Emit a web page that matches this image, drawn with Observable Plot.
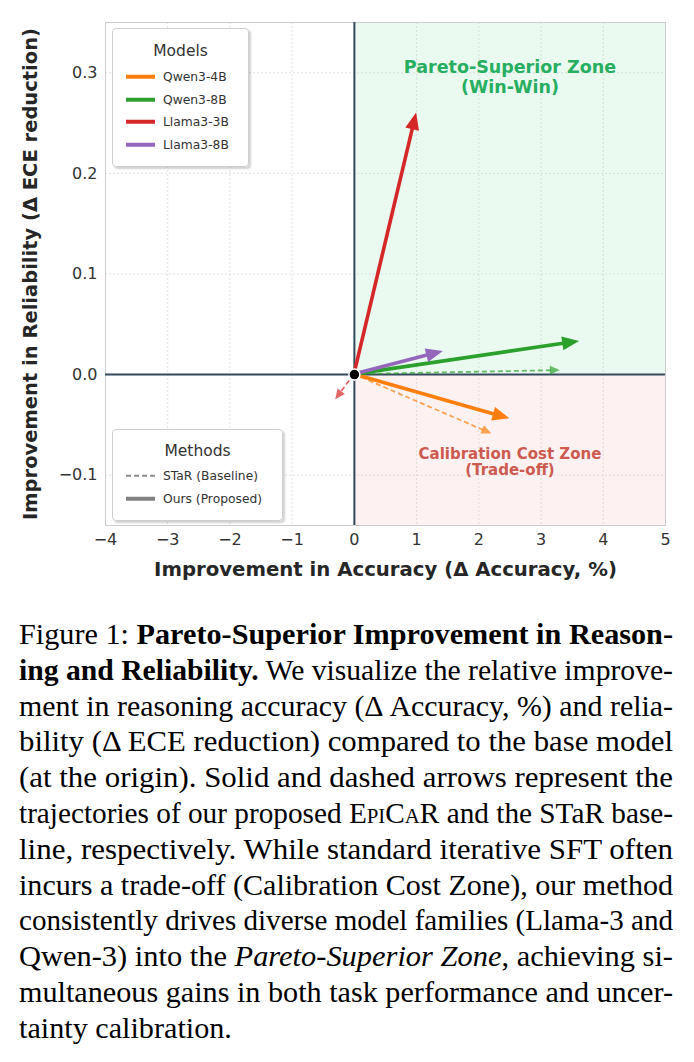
<!DOCTYPE html>
<html><head><meta charset="utf-8">
<script src="https://cdn.jsdelivr.net/npm/d3@7"></script>
<script src="https://cdn.jsdelivr.net/npm/@observablehq/plot@0.6"></script>
<style>
body{margin:0;background:#fff;}
#wrap{position:relative;width:694px;height:1062px;overflow:hidden;}
#wrap svg.plot{position:absolute;left:0;top:0;}
.legend{position:absolute;background:rgba(255,255,255,0.92);border:1px solid #cfcfcf;border-radius:4px;box-shadow:2px 2px 2px rgba(0,0,0,0.18);font-family:"DejaVu Sans",sans-serif;color:#333;}
.legend .title{position:absolute;left:0;right:0;text-align:center;font-size:15.5px;line-height:1;transform:translateY(-50%);}
.legend .row{position:absolute;left:0;font-size:12.3px;line-height:1;transform:translateY(-50%);white-space:nowrap;}
.legend .row svg{position:absolute;top:50%;transform:translateY(-50%);}
#caption{position:absolute;left:19px;top:617px;width:660px;font-family:"Liberation Serif","Times New Roman",serif;font-size:29.5px;line-height:35.8px;color:#000;}
#caption .ln{white-space:nowrap;height:35.8px;}
#caption .ln span{display:inline-block;transform-origin:left center;}
.sc{font-variant:small-caps;}
</style></head><body><div id="wrap"></div>
<script>
// ---- data ----
const models = ["Qwen3-4B", "Qwen3-8B", "Llama3-3B", "Llama3-8B"];
const modelColors = ["#ff7f0e", "#2ca02c", "#d62728", "#9467bd"];
const oursAcc = [2.5, 3.62, 1.0, 1.43];
const oursEce = [-0.044, 0.033, 0.26, 0.023];
const starAcc = [2.21, 3.31, -0.3, null];
const starEce = [-0.059, 0.004, -0.025, null];
const xTicks = [-4, -3, -2, -1, 0, 1, 2, 3, 4, 5];
const yTicks = [-0.1, 0.0, 0.1, 0.2, 0.3];
const xDomain = [-4, 5];
const yDomain = [-0.15, 0.35];
const methods = ["STaR (Baseline)", "Ours (Proposed)"];
const xLabel = "Improvement in Accuracy (\u0394 Accuracy, %)";
const yLabel = "Improvement in Reliability (\u0394 ECE reduction)";
const zoneLabels = ["Pareto-Superior Zone\n(Win-Win)", "Calibration Cost Zone\n(Trade-off)"];

const ours = models.map((m, i) => ({model: m, color: modelColors[i], x2: oursAcc[i], y2: oursEce[i]}));
const star = models.map((m, i) => ({model: m, color: modelColors[i], x2: starAcc[i], y2: starEce[i]})).filter(d => d.x2 != null);

function arrowRender(data, headLen, headW, width, dash, opacity) {
  return (index, scales, values) => {
    const g = d3.create("svg:g");
    for (const i of index) {
      const x1 = values.x1[i], y1 = values.y1[i], x2 = values.x2[i], y2 = values.y2[i];
      const dx = x2 - x1, dy = y2 - y1, L = Math.hypot(dx, dy), ux = dx / L, uy = dy / L;
      const bx = x2 - ux * headLen * 0.85, by = y2 - uy * headLen * 0.85;
      const hx = x2 - ux * headLen, hy = y2 - uy * headLen;
      const px = -uy * headW / 2, py = ux * headW / 2;
      const c = data[i].color;
      g.append("line").attr("x1", x1).attr("y1", y1).attr("x2", bx).attr("y2", by)
        .attr("stroke", c).attr("stroke-width", width).attr("stroke-dasharray", dash)
        .attr("stroke-opacity", opacity);
      g.append("polygon").attr("points", `${x2},${y2} ${hx + px},${hy + py} ${hx - px},${hy - py}`)
        .attr("fill", c).attr("fill-opacity", opacity);
    }
    return g.node();
  };
}

const chart = Plot.plot({
  width: 694, height: 600,
  marginLeft: 105, marginRight: 29, marginTop: 22, marginBottom: 75,
  x: {domain: xDomain},
  y: {domain: yDomain},
  style: {fontFamily: "DejaVu Sans, sans-serif", background: "transparent"},
  marks: [
    Plot.rect([{}], {x1: 0, x2: xDomain[1], y1: 0, y2: yDomain[1], fill: "#2ecc71", fillOpacity: 0.1}),
    Plot.rect([{}], {x1: 0, x2: xDomain[1], y1: yDomain[0], y2: 0, fill: "#e74c3c", fillOpacity: 0.07}),
    Plot.gridX(xTicks, {stroke: "#c4c4c4", strokeOpacity: 0.5, strokeDasharray: "2,2"}),
    Plot.gridY(yTicks, {stroke: "#c4c4c4", strokeOpacity: 0.5, strokeDasharray: "2,2"}),
    Plot.frame({stroke: "#cccccc"}),
    Plot.axisX(xTicks, {tickSize: 0, tickPadding: 8, fontSize: 16, color: "#333", label: null, tickFormat: d3.format("d")}),
    Plot.axisY(yTicks, {tickSize: 0, tickPadding: 8, fontSize: 16, color: "#333", label: null, tickFormat: d3.format(".1f")}),
    Plot.ruleX([0], {stroke: "#34495e", strokeWidth: 2}),
    Plot.ruleY([0], {stroke: "#34495e", strokeWidth: 2}),
    Plot.text([zoneLabels[0]], {x: 2.5, y: 0.296, text: d => d, fill: "#27ae60", fontWeight: "bold", fontSize: 17.5, lineHeight: 1.15}),
    Plot.text([zoneLabels[1]], {x: 2.5, y: -0.0865, text: d => d, fill: "#cd5a50", fontWeight: "bold", fontSize: 15, lineHeight: 1.08}),
    Plot.link(star, {x1: 0, y1: 0, x2: "x2", y2: "y2", stroke: "color", render: arrowRender(star, 10, 9, 1.8, "5,3", 0.7)}),
    Plot.link(ours, {x1: 0, y1: 0, x2: "x2", y2: "y2", stroke: "color", render: arrowRender(ours, 17, 14, 3.6, null, 1)}),
    Plot.dot([{}], {x: 0, y: 0, r: 5.5, fill: "black", stroke: "white", strokeWidth: 1.5}),
    Plot.text([xLabel], {frameAnchor: "bottom", dy: 50, textAnchor: "middle", text: d => d, fontSize: 19.7, fontWeight: "bold", fill: "#262626"}),
    Plot.text([yLabel], {frameAnchor: "left", dx: -75, textAnchor: "middle", rotate: -90, text: d => d, fontSize: 19.5, fontWeight: "bold", fill: "#262626"})
  ]
});
chart.classList.add("plot");
const wrap = document.getElementById("wrap");
wrap.appendChild(chart);

// ---- legends ----
function legend(left, top, w, h, title, titleY, rows) {
  const box = document.createElement("div");
  box.className = "legend";
  Object.assign(box.style, {left: left + "px", top: top + "px", width: w + "px", height: h + "px"});
  const t = document.createElement("div");
  t.className = "title"; t.textContent = title; t.style.top = titleY + "px";
  box.appendChild(t);
  rows.forEach(r => {
    const row = document.createElement("div");
    row.className = "row"; row.style.top = r.y + "px";
    row.innerHTML = `<svg width="30" height="8" style="left:13px"><line x1="0" y1="4" x2="29" y2="4" stroke="${r.color}" stroke-width="${r.w}" ${r.dash ? `stroke-dasharray="${r.dash}"` : ""} stroke-opacity="${r.op || 1}"/></svg><span style="position:relative;left:50px">${r.label}</span>`;
    box.appendChild(row);
  });
  wrap.appendChild(box);
}
legend(112, 28, 135, 137, "Models", 23, models.map((m, i) => ({label: m, color: modelColors[i], w: 4, y: 48 + i * 22.5})));
legend(112, 429, 169, 90, "Methods", 22, [
  {label: methods[0], color: "#808080", w: 2, dash: "5,3", y: 46, op: 0.9},
  {label: methods[1], color: "#808080", w: 4, y: 69}
]);

// ---- caption ----
const captionLines = [
  'Figure 1: <b>Pareto-Superior Improvement in Reason-</b>',
  '<b>ing and Reliability.</b> We visualize the relative improve-',
  'ment in reasoning accuracy (\u0394 Accuracy, %) and relia-',
  'bility (\u0394 ECE reduction) compared to the base model',
  '(at the origin). Solid and dashed arrows represent the',
  'trajectories of our proposed <span class="sc">EpiCaR</span> and the STaR base-',
  'line, respectively. While standard iterative SFT often',
  'incurs a trade-off (Calibration Cost Zone), our method',
  'consistently drives diverse model families (Llama-3 and',
  'Qwen-3) into the <i>Pareto-Superior Zone</i>, achieving si-',
  'multaneous gains in both task performance and uncer-',
  'tainty calibration.'
];
const cap = document.createElement("div");
cap.id = "caption";
wrap.appendChild(cap);
const target = 654;
const spans = captionLines.map(html => {
  const d = document.createElement("div");
  d.className = "ln";
  const s = document.createElement("span");
  s.innerHTML = html;
  d.appendChild(s);
  cap.appendChild(d);
  return s;
});
const factors = [];
spans.forEach((s, k) => {
  if (k === spans.length - 1) return;
  const w = s.getBoundingClientRect().width;
  const f = target / w;
  factors.push(f);
  s.style.transform = `scaleX(${f})`;
});
factors.sort((a, b) => a - b);
const med = factors[Math.floor(factors.length / 2)];
spans[spans.length - 1].style.transform = `scaleX(${med})`;
</script></body></html>
